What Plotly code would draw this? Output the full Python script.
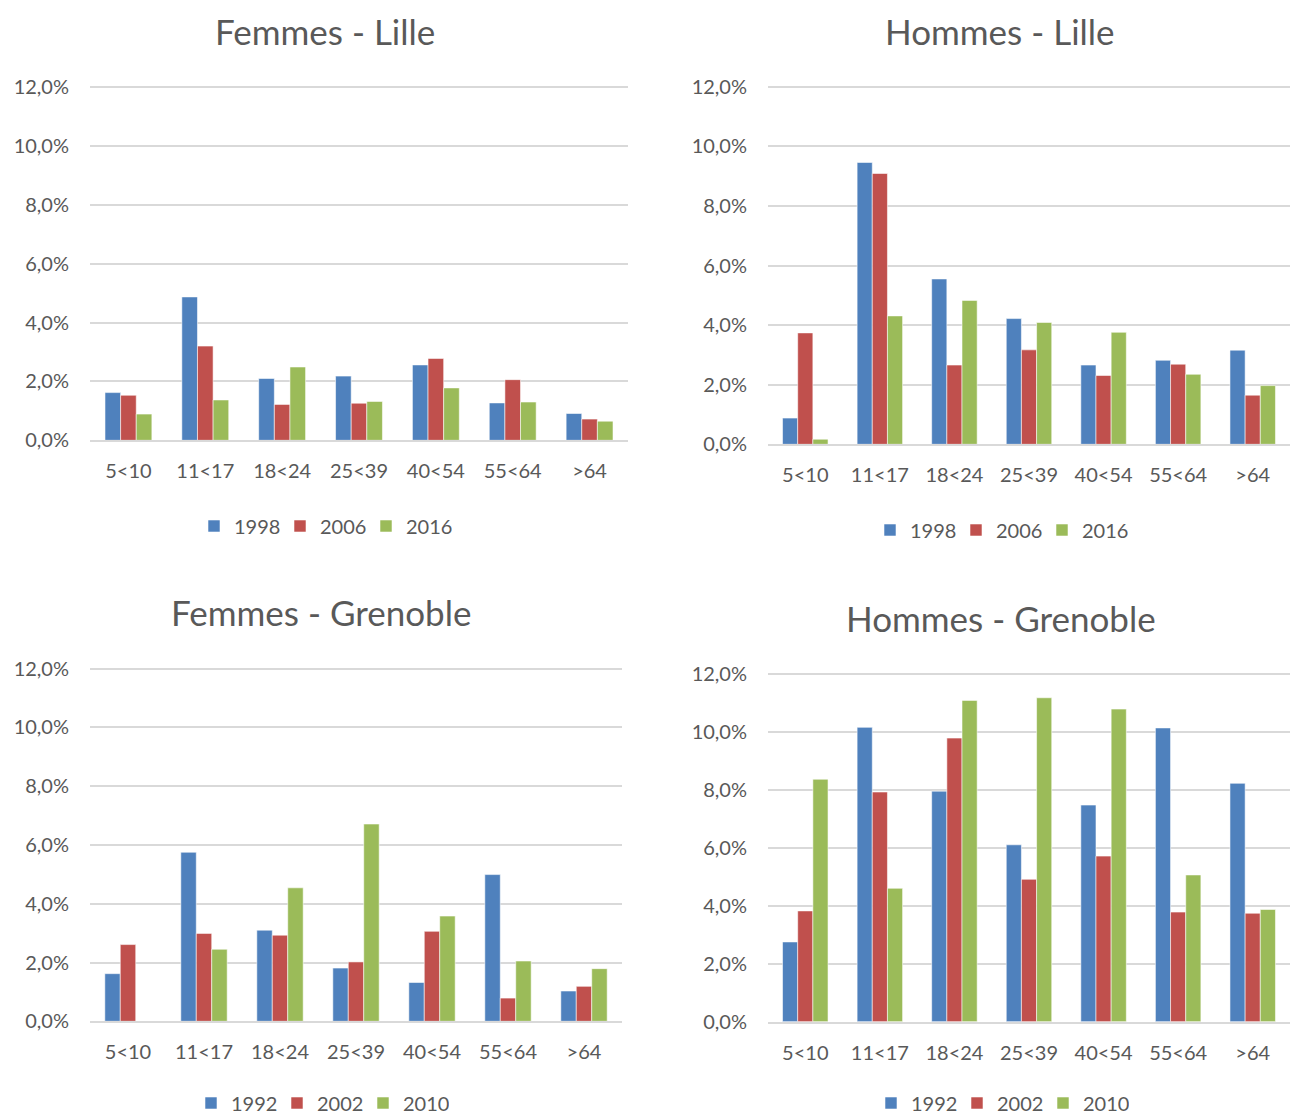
import plotly.graph_objects as go

W, H = 1294, 1115

categories = ["5<10", "11<17", "18<24", "25<39", "40<54", "55<64", ">64"]

# Femmes - Lille
fl_years = ["1998", "2006", "2016"]
fl_1998 = [1.62, 4.87, 2.10, 2.18, 2.56, 1.27, 0.91]
fl_2006 = [1.53, 3.20, 1.22, 1.26, 2.78, 2.06, 0.72]
fl_2016 = [0.89, 1.37, 2.49, 1.32, 1.78, 1.30, 0.65]

# Hommes - Lille
hl_years = ["1998", "2006", "2016"]
hl_1998 = [0.88, 9.46, 5.55, 4.22, 2.66, 2.82, 3.16]
hl_2006 = [3.74, 9.09, 2.66, 3.17, 2.31, 2.69, 1.65]
hl_2016 = [0.17, 4.31, 4.83, 4.09, 3.76, 2.35, 1.97]

# Femmes - Grenoble
fg_years = ["1992", "2002", "2010"]
fg_1992 = [1.62, 5.75, 3.10, 1.81, 1.32, 4.99, 1.03]
fg_2002 = [2.61, 2.99, 2.93, 2.02, 3.06, 0.79, 1.19]
fg_2010 = [0.00, 2.45, 4.54, 6.71, 3.58, 2.05, 1.79]

# Hommes - Grenoble
hg_years = ["1992", "2002", "2010"]
hg_1992 = [2.75, 10.15, 7.95, 6.10, 7.47, 10.13, 8.22]
hg_2002 = [3.82, 7.92, 9.78, 4.91, 5.71, 3.78, 3.74]
hg_2010 = [8.36, 4.60, 11.08, 11.17, 10.78, 5.06, 3.87]

titles = ["Femmes - Lille", "Hommes - Lille", "Femmes - Grenoble", "Hommes - Grenoble"]
yticks = [0, 2, 4, 6, 8, 10, 12]
ytick_labels = ["0,0%", "2,0%", "4,0%", "6,0%", "8,0%", "10,0%", "12,0%"]

colors = ["#4F81BD", "#C0504D", "#9BBB59"]
TXT = "#595959"
GRID = "#D9D9D9"
FONT = "Lato"

panels = [
    (fl_years, [fl_1998, fl_2006, fl_2016]),
    (hl_years, [hl_1998, hl_2006, hl_2016]),
    (fg_years, [fg_1992, fg_2002, fg_2010]),
    (hg_years, [hg_1992, hg_2002, hg_2010]),
]

# pixel layout: (x0, x1, y of 0%, y of 12%, title_x, title_y, legend_x, legend_y)
geo = [
    (90, 628, 440.3, 87.0, 325, 31, 323, 526),
    (768, 1290, 444.3, 86.8, 1000, 31, 999, 530),
    (90, 622, 1021.3, 668.5, 321, 612, 320, 1103),
    (768, 1290, 1021.7, 673.7, 1001, 618, 1000, 1103),
]

YMAX = 12.2  # headroom so the 12% gridline is not clipped at the plot edge

def px(x):
    return x / W

def py(y):
    return 1 - y / H

fig = go.Figure()
annotations = []
layout = dict(
    width=W, height=H,
    margin=dict(l=0, r=0, t=0, b=0, pad=0, autoexpand=False),
    paper_bgcolor="white", plot_bgcolor="white",
    barmode="group", bargap=0.39, bargroupgap=0,
    font=dict(family=FONT, color=TXT, size=20),
)

for i, ((years, series), g) in enumerate(zip(panels, geo)):
    n = "" if i == 0 else str(i + 1)
    x0, x1, yb, yt, tx, ty, lx, ly = g
    ytop = yb - (yb - yt) * YMAX / 12.0
    legname = "legend" + n
    for j, (yr, vals) in enumerate(zip(years, series)):
        fig.add_trace(go.Bar(
            x=categories, y=vals, name=yr,
            xaxis="x" + n, yaxis="y" + n,
            legend=legname,
            marker=dict(color=colors[j], line=dict(color="rgba(255,255,255,0.55)", width=1)),
        ))
    layout["xaxis" + n] = dict(
        domain=[px(x0), px(x1)], anchor="y" + n, automargin=False,
        showgrid=False, showline=True, linecolor=GRID, linewidth=2,
        ticks="", tickfont=dict(family=FONT, size=20, color=TXT),
        ticklabelstandoff=12, fixedrange=True,
    )
    layout["yaxis" + n] = dict(
        domain=[py(yb), py(ytop)], anchor="x" + n, automargin=False,
        range=[0, YMAX], tickmode="array", tickvals=yticks, ticktext=ytick_labels,
        showgrid=True, gridcolor=GRID, gridwidth=2,
        zeroline=False, showline=False, ticks="",
        tickfont=dict(family=FONT, size=20, color=TXT),
        ticklabelstandoff=20, fixedrange=True,
    )
    layout[legname] = dict(
        orientation="h", x=px(lx), y=py(ly), xanchor="center", yanchor="middle",
        font=dict(family=FONT, size=20, color=TXT),
        itemwidth=30, entrywidth=41, entrywidthmode="pixels",
        bgcolor="rgba(0,0,0,0)",
    )
    annotations.append(dict(
        text=titles[i], x=px(tx), y=py(ty), xref="paper", yref="paper",
        xanchor="center", yanchor="middle", showarrow=False,
        font=dict(family=FONT, size=35, color=TXT),
    ))

layout["annotations"] = annotations
fig.update_layout(**layout)
fig.write_html(
    "out.html",
    config={"displayModeBar": False},
    post_script="document.body.style.margin='0';document.body.style.overflow='hidden';",
)
